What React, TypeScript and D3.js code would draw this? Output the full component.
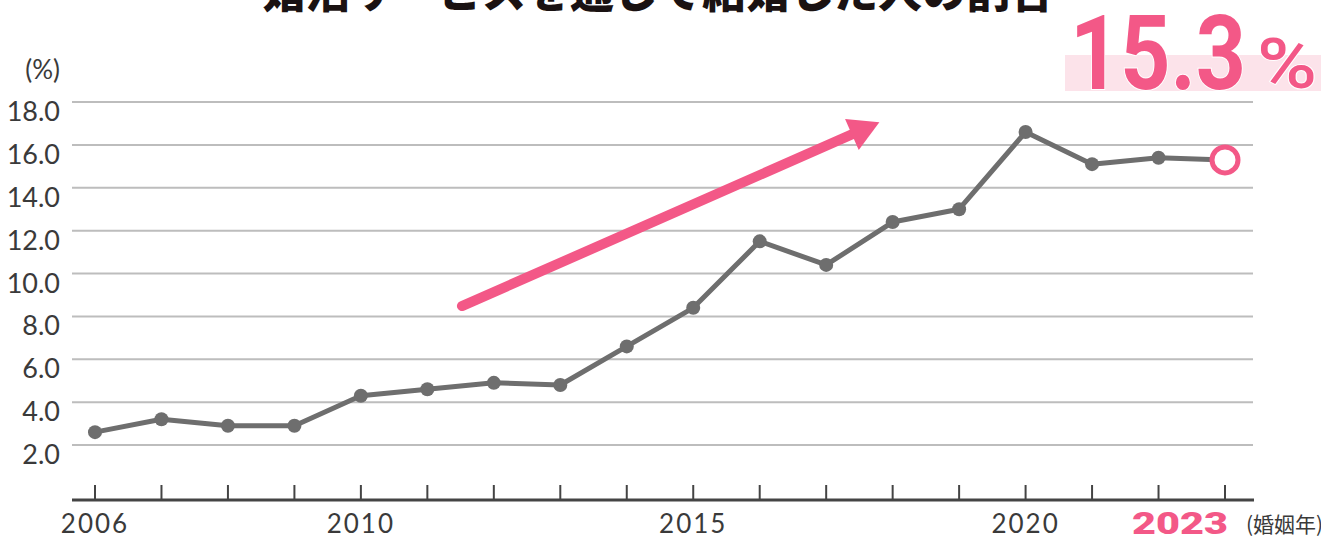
import { scaleLinear, line } from "d3";

// Data
const years = [2006, 2007, 2008, 2009, 2010, 2011, 2012, 2013, 2014, 2015, 2016, 2017, 2018, 2019, 2020, 2021, 2022, 2023];
const rates = [2.6, 3.2, 2.9, 2.9, 4.3, 4.6, 4.9, 4.8, 6.6, 8.4, 11.5, 10.4, 12.4, 13.0, 16.6, 15.1, 15.4, 15.3];
const yTicks = [2, 4, 6, 8, 10, 12, 14, 16, 18];
const xLabelYears = [2006, 2010, 2015, 2020];
const title = "婚活サービスを通じて結婚した人の割合";

const PINK = "#f35887";
const GRAY_LINE = "#6e6e6e";
const TEXT = "#3a3a3a";
const FONT = "Lato, 'Noto Sans', sans-serif";
const JP = "'Noto Sans CJK JP', sans-serif";

export default function App() {
  // Scales
  const x = scaleLinear().domain([2006, 2023]).range([95, 1225]);
  const y = scaleLinear().domain([2, 18]).range([445, 102]);
  const axisY = 500;

  const pts = years.map((yr, i) => ({ yr, v: rates[i] }));
  const path = line<{ yr: number; v: number }>()
    .x((d) => x(d.yr))
    .y((d) => y(d.v))(pts);

  // trend arrow (annotation)
  const ax1 = x(2011.52), ay1 = y(8.48);
  const ax2 = x(2017.8), ay2 = y(17.05);
  const ang = Math.atan2(ay2 - ay1, ax2 - ax1);
  const headLen = 30, headW = 17;
  const bx = ax2 - headLen * Math.cos(ang), by = ay2 - headLen * Math.sin(ang);
  const px = -Math.sin(ang), py = Math.cos(ang);
  const head = `M${ax2},${ay2}L${bx + px * headW},${by + py * headW}L${bx - px * headW},${by - py * headW}Z`;

  const last = pts[pts.length - 1];

  return (
    <svg
      width={1321}
      height={541}
      style={{ position: "absolute", left: 0, top: 0, background: "#fff" }}
    >
      {/* Title (cut at the top) */}
      <text x={658} y={8} textAnchor="middle" fontFamily={JP} fontWeight={900} fontSize={44} fill="#1a1212">
        {title}
      </text>

      {/* Gridlines */}
      {yTicks.map((t) => (
        <line key={t} x1={72} x2={1253} y1={y(t)} y2={y(t)} stroke="#bdbdbd" strokeWidth={2} />
      ))}

      {/* Y labels */}
      <text x={60} y={79} textAnchor="end" fontFamily={FONT} fontSize={26} fill={TEXT}>
        (%)
      </text>
      {yTicks.map((t) => (
        <text key={t} x={60} y={y(t) + 19} textAnchor="end" fontFamily={FONT} fontSize={27} fill={TEXT}>
          {t.toFixed(1)}
        </text>
      ))}

      {/* Highlight value */}
      <rect x={1065} y={55} width={256} height={36} fill="#fce3ea" />
      <text
        x={1070}
        y={89}
        fontFamily="Roboto, sans-serif"
        fontWeight={700}
        fontSize={104}
        fill={PINK}
        stroke="#fff"
        strokeWidth={2}
        paintOrder="stroke"
        textLength={176}
        lengthAdjust="spacingAndGlyphs"
      >
        15.3
      </text>
      <text
        x={1257}
        y={88}
        fontFamily="Roboto, sans-serif"
        fontWeight={500}
        fontSize={70}
        fill={PINK}
        stroke="#fff"
        strokeWidth={2}
        paintOrder="stroke"
        textLength={60}
        lengthAdjust="spacingAndGlyphs"
      >
        %
      </text>

      {/* Trend arrow */}
      <line x1={ax1} y1={ay1} x2={bx} y2={by} stroke={PINK} strokeWidth={10} strokeLinecap="round" />
      <path d={head} fill={PINK} />

      {/* X axis */}
      <line x1={72} x2={1254} y1={axisY} y2={axisY} stroke="#444" strokeWidth={3} />
      {years.map((yr) => (
        <line key={yr} x1={x(yr)} x2={x(yr)} y1={axisY} y2={axisY - 15} stroke="#444" strokeWidth={2} />
      ))}
      {xLabelYears.map((yr) => (
        <text key={yr} x={x(yr)} y={533} textAnchor="middle" fontFamily={FONT} fontSize={26} letterSpacing={2} fill={TEXT}>
          {yr}
        </text>
      ))}
      <text
        x={1132}
        y={534}
        fontFamily="Roboto, sans-serif"
        fontWeight={900}
        fontSize={32}
        fill={PINK}
        textLength={96}
        lengthAdjust="spacingAndGlyphs"
      >
        2023
      </text>
      <text x={1246} y={532} fontFamily={JP} fontSize={21} fill={TEXT}>
        (婚姻年)
      </text>

      {/* Line + points */}
      <path d={path ?? ""} fill="none" stroke={GRAY_LINE} strokeWidth={5} strokeLinejoin="round" />
      {pts.slice(0, -1).map((d) => (
        <circle key={d.yr} cx={x(d.yr)} cy={y(d.v)} r={7} fill={GRAY_LINE} />
      ))}
      <circle cx={x(last.yr)} cy={y(last.v)} r={13} fill="#fff" stroke={PINK} strokeWidth={5} />
    </svg>
  );
}
